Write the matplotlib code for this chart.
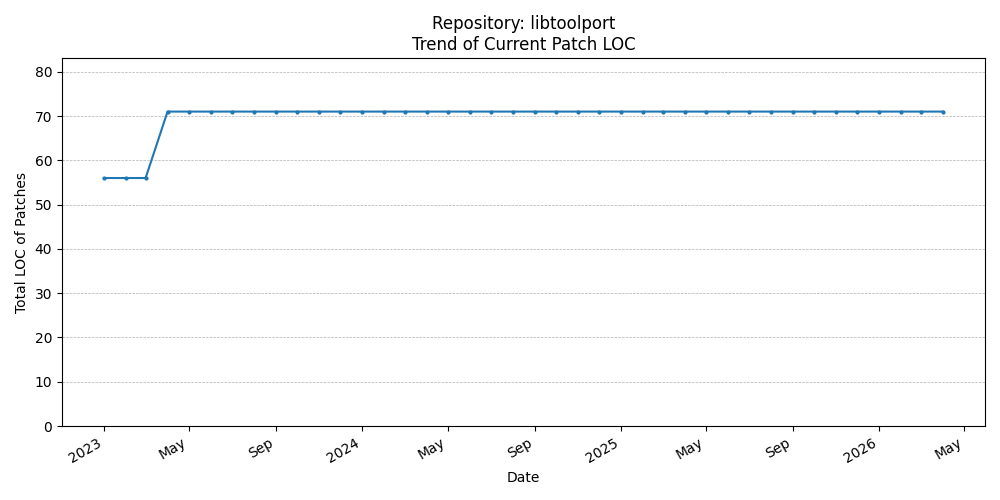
import pandas as pd
import matplotlib
matplotlib.use("Agg")
import matplotlib.pyplot as plt
import matplotlib.dates as mdates

# monthly snapshots, Jan 2023 .. Apr 2026
dates = pd.date_range("2023-01-01", "2026-04-01", freq="MS")
loc_values = [56, 56, 56] + [71] * (len(dates) - 3)

fig, ax = plt.subplots(figsize=(10, 5), dpi=100)
ax.plot(dates, loc_values, marker="o", markersize=2, linewidth=1.5, color="#1f77b4")

ax.set_title("Repository: libtoolport\nTrend of Current Patch LOC")
ax.set_xlabel("Date")
ax.set_ylabel("Total LOC of Patches")
ax.set_ylim(0, max(loc_values) * 1.17)
ax.grid(True, axis="y", linestyle="--", linewidth=0.5)

locator = mdates.AutoDateLocator()
ax.xaxis.set_major_locator(locator)
ax.xaxis.set_major_formatter(mdates.ConciseDateFormatter(locator))
fig.autofmt_xdate()

plt.tight_layout()
plt.savefig("out.png")
